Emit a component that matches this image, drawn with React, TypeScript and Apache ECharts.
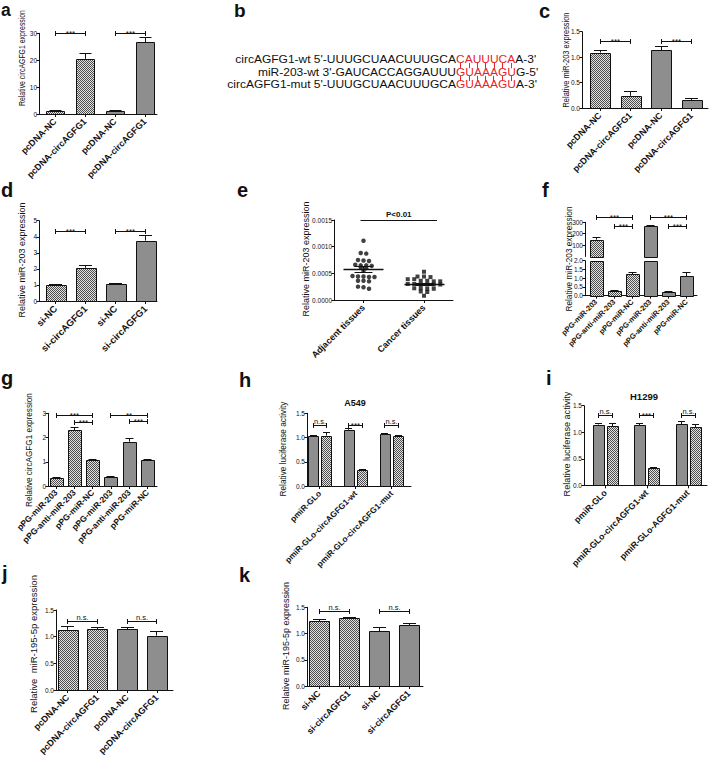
import React, { useEffect, useRef } from "react";
import * as echarts from "echarts";

const FONT = '"Liberation Sans", Arial, Helvetica, sans-serif';
const W = 709;
const H = 758;

// ---------------- categories ----------------
const pcdnaCats = ["pcDNA-NC", "pcDNA-circAGFG1", "pcDNA-NC", "pcDNA-circAGFG1"];
const siCats = ["si-NC", "si-circAGFG1", "si-NC", "si-circAGFG1"];
const ppgCats = ["pPG-miR-203", "pPG-anti-miR-203", "pPG-miR-NC", "pPG-miR-203", "pPG-anti-miR-203", "pPG-miR-NC"];
const tissueCats = ["Adjacent tissues", "Cancer tissues"];
const lucCatsA549 = ["pmiR-GLo", "pmiR-GLo-circAGFG1-wt", "pmiR-GLo-circAGFG1-mut"];
const lucCatsH1299 = ["pmiR-GLo", "pmiR-GLo-circAGFG1-wt", "pmiR-GLo-AGFG1-mut"];

// ---------------- panel a ----------------
const aValues = [1.0, 20.5, 1.0, 26.6];
const aErrors = [0.15, 2.0, 0.15, 1.9];
const aYTicks = [0, 10, 20, 30];
const aSigPairs = [[0, 1, 30], [2, 3, 30]];
const aSigLabels = ["***", "***"];

// ---------------- panel b ----------------
const seqRows = [
  { name: "circAGFG1-wt 5'-", pre: "UUUGCUAACUUUGCA", site: "CAUUUCA", post: "A-3'" },
  { name: "miR-203-wt 3'-", pre: "GAUCACCAGGAUUU", site: "GUAAAGU", post: "G-5'" },
  { name: "circAGFG1-mut 5'-", pre: "UUUGCUAACUUUGCA", site: "GUAAAGU", post: "A-3'" },
];

// ---------------- panel c ----------------
const cValues = [1.09, 0.24, 1.14, 0.15];
const cErrors = [0.04, 0.08, 0.07, 0.04];
const cYTicks = [0, 0.5, 1.0, 1.5];
const cSigPairs = [[0, 1, 1.3], [2, 3, 1.3]];
const cSigLabels = ["***", "***"];

// ---------------- panel d ----------------
const dValues = [1.0, 2.07, 1.05, 3.76];
const dErrors = [0.03, 0.13, 0.05, 0.29];
const dYTicks = [0, 1, 2, 3, 4, 5];
const dSigPairs = [[0, 1, 4.3], [2, 3, 4.3]];
const dSigLabels = ["***", "***"];

// ---------------- panel e ----------------
const eAdjacent = [0.00111, 0.00088, 0.00087, 0.00075, 0.00074, 0.00073, 0.00066, 0.00065, 0.00065, 0.00064,
  0.00061, 0.0006, 0.00055, 0.00045, 0.00044, 0.00044, 0.00043, 0.00043, 0.00036, 0.00036, 0.00035,
  0.00025, 0.00024, 0.00021];
const eCancer = [0.00053, 0.00044, 0.00044, 0.00043, 0.00039, 0.00039, 0.00036, 0.00036, 0.00035, 0.00035,
  0.0003, 0.0003, 0.00029, 0.00029, 0.00029, 0.00029, 0.00022, 0.00022, 0.00021, 0.00021, 0.00016, 0.00015,
  0.00008];
const eMeans = [0.000575, 0.000294];
const eSems = [0.00005, 0.00002];
const eYTicks = [0, 0.0005, 0.001, 0.0015];
const eSigLevel = 0.0015;
const eSigLabel = "P<0.01";

// ---------------- panel f ----------------
const fValues = [148, 0.25, 1.22, 265, 0.22, 1.12];
const fErrors = [22, 0.03, 0.13, 4, 0.04, 0.18];
const fUpperTicks = [0, 100, 200, 300];
const fLowerTicks = [0, 0.5, 1.0, 1.5, 2.0];
const fSigPairs = [[0, 2, 340], [1, 2, 267], [3, 5, 340], [4, 5, 267]];
const fSigLabels = ["***", "***", "***", "***"];

// ---------------- panel g ----------------
const gValues = [0.32, 2.31, 1.07, 0.36, 1.83, 1.07];
const gErrors = [0.02, 0.12, 0.03, 0.04, 0.11, 0.03];
const gYTicks = [0, 1, 2, 3];
const gSigPairs = [[0, 2, 2.89], [1, 2, 2.62], [3, 5, 2.9], [4, 5, 2.65]];
const gSigLabels = ["***", "***", "**", "***"];

// ---------------- panel h ----------------
const hGrey = [1.03, 1.16, 1.07];
const hGreyErr = [0.01, 0.02, 0.02];
const hChecker = [1.04, 0.33, 1.03];
const hCheckerErr = [0.07, 0.01, 0.01];
const hYTicks = [0, 0.5, 1.0, 1.5];
const hSigPairs = [[0, 1, 1.25], [2, 3, 1.25], [4, 5, 1.25]];
const hSigLabels = ["n.s.", "***", "n.s."];
const hTitle = "A549";

// ---------------- panel i ----------------
const iGrey = [1.145, 1.13, 1.15];
const iGreyErr = [0.02, 0.04, 0.05];
const iChecker = [1.11, 0.32, 1.1];
const iCheckerErr = [0.05, 0.02, 0.04];
const iYTicks = [0, 0.5, 1.0, 1.5];
const iSigPairs = [[0, 1, 1.31], [2, 3, 1.31], [4, 5, 1.31]];
const iSigLabels = ["n.s.", "***", "n.s."];
const iTitle = "H1299";

// ---------------- panel j ----------------
const jValues = [1.13, 1.145, 1.135, 1.02];
const jErrors = [0.06, 0.02, 0.04, 0.08];
const jYTicks = [0, 0.5, 1.0, 1.5];
const jSigPairs = [[0, 1, 1.28], [2, 3, 1.28]];
const jSigLabels = ["n.s.", "n.s."];

// ---------------- panel k ----------------
const kValues = [1.24, 1.29, 1.04, 1.16];
const kErrors = [0.02, 0.02, 0.08, 0.04];
const kYTicks = [0, 0.5, 1.0, 1.5];
const kSigPairs = [[0, 1, 1.42], [2, 3, 1.42]];
const kSigLabels = ["n.s.", "n.s."];

// ---------------- texts ----------------
const yTitles = {
  a: "Relative circAGFG1 expression",
  c: "Relative miR-203 expression",
  d: "Relative miR-203 expression",
  e: "Relative miR-203 expression",
  f: "Relative miR-203 expression",
  g: "Relative circAGFG1 expression",
  h: "Relative luciferase activity",
  i: "Relative luciferase activity",
  j: "Relative  miR-195-5p expression",
  k: "Relative miR-195-5p expression",
};

// ---------------- layout (pixels) ----------------
// title: [centre x, centre y, drawn length]
const LAYOUT: any = {
  a: { axisX: 39, axisEnd: 157, top: 33.3, bottom: 114, first: 55, spacing: 30, barW: 18, xFont: 9, xMargin: 6, title: [22, 58, 96] },
  c: { axisX: 582, axisEnd: 708, top: 31.7, bottom: 108, first: 600, spacing: 30.5, barW: 20, xFont: 9, xMargin: 6, title: [566, 60, 95] },
  d: { axisX: 39, axisEnd: 157, top: 220.7, bottom: 301, first: 55.5, spacing: 30, barW: 20, xFont: 9.5, xMargin: 6, title: [22, 260, 115] },
  e: { axisX: 334, axisEnd: 453, top: 220, bottom: 300, first: 363.5, spacing: 60.5, xFont: 9, xMargin: 6, title: [306, 259, 115] },
  f: { axisX: 585, axisEnd: 697, upperTop: 222.3, upperBottom: 256.5, top: 260.7, bottom: 295.7, first: 596, spacing: 18.1, barW: 13, xFont: 7.5, xMargin: 5, title: [569, 259, 105] },
  g: { axisX: 48, axisEnd: 157, top: 413.3, bottom: 486, first: 56, spacing: 18.3, barW: 13, xFont: 8.5, xMargin: 5, title: [29, 450, 114] },
  h: { axisX: 307, axisEnd: 411, top: 413.3, bottom: 486, first: 319.7, spacing: 35.9, barW: 10, inner: 13.3, xFont: 8.3, xMargin: 6, title: [283, 449, 95] },
  i: { axisX: 584, axisEnd: 707, top: 405.7, bottom: 485.3, first: 605.5, spacing: 41.25, barW: 11, inner: 14, xFont: 8.8, xMargin: 6, title: [567, 444, 105] },
  j: { axisX: 56, axisEnd: 173, top: 610, bottom: 690, first: 67.7, spacing: 29.7, barW: 20, xFont: 9, xMargin: 6, title: [34, 644, 138] },
  k: { axisX: 307, axisEnd: 423, top: 607.3, bottom: 686, first: 319, spacing: 30, barW: 20, xFont: 9, xMargin: 6, title: [286, 646, 128] },
};
const TITLE_FS = 9;
// [letter, left x, baseline y, font size]
const LETTERS: [string, number, number, number][] = [
  ["a", 1, 16, 17.5], ["b", 234, 17.5, 19], ["c", 539, 18, 20], ["d", 1, 197, 20], ["e", 237, 197, 20], ["f", 542, 197, 20],
  ["g", 1, 385, 20], ["h", 239, 387, 20], ["i", 546, 385, 20], ["j", 2, 580, 20], ["k", 239, 582, 20],
];
const INK = "#111";
const GREY = "#8e8e8e";
const RED = "#e8242b";

function crisp(v: number) {
  return Math.round(v - 0.5) + 0.5;
}

function makeChecker() {
  const c = document.createElement("canvas");
  c.width = 2;
  c.height = 2;
  const x = c.getContext("2d") as CanvasRenderingContext2D;
  x.fillStyle = "#e2e2e2";
  x.fillRect(0, 0, 2, 2);
  x.fillStyle = "#4e4e4e";
  x.fillRect(0, 0, 1, 1);
  x.fillRect(1, 1, 1, 1);
  return { image: c.toDataURL(), repeat: "repeat", imageWidth: 2, imageHeight: 2 };
}

function swarmOffsets(values: number[], tol: number, step: number) {
  const idx = values.map((_, i) => i).sort((p, q) => values[q] - values[p]);
  const off = new Array(values.length).fill(0);
  let row: number[] = [];
  const flush = () => {
    row.forEach((id, j) => (off[id] = (j - (row.length - 1) / 2) * step));
    row = [];
  };
  for (const id of idx) {
    if (row.length && values[row[0]] - values[id] > tol) flush();
    row.push(id);
  }
  flush();
  return off;
}

function buildOption() {
  const checker = makeChecker();
  const grids: any[] = [];
  const xAxes: any[] = [];
  const yAxes: any[] = [];
  const series: any[] = [];
  const elements: any[] = [];
  const lineStyle = { color: INK, width: 1 };
  const mctx = document.createElement("canvas").getContext("2d") as CanvasRenderingContext2D;

  const addGrid = (g: any, top: number, bottom: number) => {
    grids.push({ left: g.axisX, top, width: g.axisEnd - g.axisX, height: bottom - top, containLabel: false });
    return grids.length - 1;
  };
  const addX = (g: any, cats: string[], show: boolean) => {
    const n = cats.length;
    const last = g.first + (n - 1) * g.spacing;
    const ids = cats.map((_, i) => i);
    xAxes.push({
      gridIndex: grids.length - 1,
      type: "value",
      min: -(g.first - g.axisX) / g.spacing,
      max: n - 1 + (g.axisEnd - last) / g.spacing,
      axisLine: { show, onZero: false, lineStyle },
      axisTick: { show, customValues: ids, length: 3, lineStyle },
      axisLabel: {
        show, customValues: ids, rotate: 45, margin: g.xMargin, fontSize: g.xFont, fontWeight: "bold",
        color: INK, fontFamily: FONT, formatter: (v: number) => cats[Math.round(v)] ?? "",
      },
      splitLine: { show: false },
    });
  };
  const addY = (ticks: number[], decimals: number, hideMin = false) => {
    yAxes.push({
      gridIndex: grids.length - 1,
      type: "value",
      min: ticks[0],
      max: ticks[ticks.length - 1],
      interval: ticks[1] - ticks[0],
      axisLine: { show: true, onZero: false, lineStyle },
      axisTick: { show: true, length: 2.5, lineStyle },
      axisLabel: {
        fontSize: 6.5, margin: 2, color: INK, fontFamily: FONT, showMinLabel: !hideMin,
        formatter: (v: number) => v.toFixed(decimals),
      },
      splitLine: { show: false },
    });
  };

  const simpleX = () => (api: any, i: number) => api.coord([i, 0])[0];
  const groupedX = (inner: number) => (api: any, i: number) =>
    api.coord([Math.floor(i / 2), 0])[0] + ((i % 2) - 0.5) * inner;

  const addBars = (gi: number, bars: number[], errs: number[], fillOf: (i: number) => any, xPix: any, barW: number, yMin: number, yMax: number) => {
    series.push({
      type: "custom", xAxisIndex: gi, yAxisIndex: gi, z: 2,
      data: bars.map((v, i) => [i, v]),
      renderItem: (params: any, api: any) => {
        const i = api.value(0);
        const v = api.value(1);
        const cs = params.coordSys;
        const cx = xPix(api, i);
        let yTop = api.coord([0, Math.min(v, yMax)])[1];
        let yBot = api.coord([0, yMin])[1];
        yTop = Math.max(yTop, cs.y);
        yBot = Math.min(yBot, cs.y + cs.height);
        if (yBot - yTop < 0.8) return null;
        const x0 = Math.round(cx - barW / 2) + 0.5;
        const t = Math.round(yTop) + 0.5;
        return {
          type: "rect",
          shape: { x: x0, y: t, width: Math.round(barW), height: Math.round(yBot) + 0.5 - t },
          style: { fill: fillOf(i), stroke: INK, lineWidth: 1 },
        };
      },
    });
    const capW = Math.round(barW * 0.65);
    series.push({
      type: "custom", xAxisIndex: gi, yAxisIndex: gi, z: 3,
      data: bars.map((v, i) => [i, v, errs[i]]),
      renderItem: (params: any, api: any) => {
        const i = api.value(0);
        const v = api.value(1);
        const e = api.value(2);
        const cs = params.coordSys;
        if (v > yMax) return null;
        const yTop = api.coord([0, v])[1];
        if (cs.y + cs.height - yTop < 1) return null;
        const yHi = crisp(api.coord([0, v + e])[1]);
        const cx = crisp(xPix(api, i));
        return {
          type: "group",
          children: [
            { type: "line", shape: { x1: cx, y1: yTop, x2: cx, y2: yHi }, style: { stroke: INK, lineWidth: 1 } },
            { type: "line", shape: { x1: cx - capW / 2, y1: yHi, x2: cx + capW / 2, y2: yHi }, style: { stroke: INK, lineWidth: 1 } },
          ],
        };
      },
    });
  };

  const addSig = (gi: number, pairs: number[][], labels: string[], xPix: any) => {
    series.push({
      type: "custom", xAxisIndex: gi, yAxisIndex: gi, z: 4,
      data: pairs,
      renderItem: (params: any, api: any) => {
        const l = api.value(0);
        const r = api.value(1);
        const y = api.value(2);
        const lab = labels[params.dataIndex];
        const xl = crisp(xPix(api, l));
        const xr = crisp(xPix(api, r));
        const yy = crisp(api.coord([0, y])[1]);
        const star = lab.charAt(0) === "*";
        const fs = star ? 8 : 7.5;
        return {
          type: "group",
          children: [
            { type: "line", shape: { x1: xl, y1: yy, x2: xr, y2: yy }, style: { stroke: INK, lineWidth: 1 } },
            { type: "line", shape: { x1: xl, y1: yy - 2.5, x2: xl, y2: yy + 2.5 }, style: { stroke: INK, lineWidth: 1 } },
            { type: "line", shape: { x1: xr, y1: yy - 2.5, x2: xr, y2: yy + 2.5 }, style: { stroke: INK, lineWidth: 1 } },
            {
              type: "text", x: (xl + xr) / 2, y: star ? yy - 0.3 : yy - 4.5,
              style: { text: lab, font: `${fs}px ${FONT}`, fill: INK, align: "center", verticalAlign: "middle", textAlign: "center", textVerticalAlign: "middle" },
            },
          ],
        };
      },
    });
  };

  const simplePanel = (key: string, cats: string[], values: number[], errs: number[], ticks: number[], decimals: number, pairs: number[][], labels: string[], nChecker: number) => {
    const g = LAYOUT[key];
    const gi = addGrid(g, g.top, g.bottom);
    addX(g, cats, true);
    addY(ticks, decimals);
    const xp = simpleX();
    addBars(gi, values, errs, (i) => (i < nChecker ? checker : GREY), xp, g.barW, ticks[0], ticks[ticks.length - 1]);
    addSig(gi, pairs, labels, xp);
  };

  const groupedPanel = (key: string, cats: string[], grey: number[], greyErr: number[], chk: number[], chkErr: number[], ticks: number[], pairs: number[][], labels: string[]) => {
    const g = LAYOUT[key];
    const gi = addGrid(g, g.top, g.bottom);
    addX(g, cats, true);
    addY(ticks, 1);
    const bars: number[] = [];
    const errs: number[] = [];
    grey.forEach((v, k) => {
      bars.push(v, chk[k]);
      errs.push(greyErr[k], chkErr[k]);
    });
    const xp = groupedX(g.inner);
    addBars(gi, bars, errs, (i) => (i % 2 === 0 ? GREY : checker), xp, g.barW, ticks[0], ticks[ticks.length - 1]);
    addSig(gi, pairs, labels, xp);
  };

  // a, c, d
  simplePanel("a", pcdnaCats, aValues, aErrors, aYTicks, 0, aSigPairs, aSigLabels, 2);
  simplePanel("c", pcdnaCats, cValues, cErrors, cYTicks, 1, cSigPairs, cSigLabels, 2);
  simplePanel("d", siCats, dValues, dErrors, dYTicks, 0, dSigPairs, dSigLabels, 2);

  // e
  {
    const g = LAYOUT.e;
    const gi = addGrid(g, g.top, g.bottom);
    addX(g, tissueCats, true);
    addY(eYTicks, 4);
    const offA = swarmOffsets(eAdjacent, 0.00004, 5.5);
    const offC = swarmOffsets(eCancer, 0.00004, 6.5);
    series.push({
      type: "scatter", xAxisIndex: gi, yAxisIndex: gi, symbol: "circle", symbolSize: 4.5, z: 3,
      itemStyle: { color: INK }, data: eAdjacent.map((v, k) => [offA[k] / g.spacing, v]),
    });
    series.push({
      type: "scatter", xAxisIndex: gi, yAxisIndex: gi, symbol: "rect", symbolSize: 4, z: 3,
      itemStyle: { color: INK }, data: eCancer.map((v, k) => [1 + offC[k] / g.spacing, v]),
    });
    series.push({
      type: "custom", xAxisIndex: gi, yAxisIndex: gi, z: 4,
      data: eMeans.map((m, k) => [k, m, eSems[k]]),
      renderItem: (params: any, api: any) => {
        const c = api.value(0);
        const m = api.value(1);
        const s = api.value(2);
        const cx = crisp(api.coord([c, m])[0]);
        const ym = crisp(api.coord([c, m])[1]);
        const yh = crisp(api.coord([c, m + s])[1]);
        const yl = crisp(api.coord([c, m - s])[1]);
        const st = { stroke: INK, lineWidth: 1 };
        return {
          type: "group",
          children: [
            { type: "line", shape: { x1: cx - 20, y1: ym, x2: cx + 20, y2: ym }, style: { stroke: INK, lineWidth: 1.3 } },
            { type: "line", shape: { x1: cx, y1: yh, x2: cx, y2: yl }, style: st },
            { type: "line", shape: { x1: cx - 9, y1: yh, x2: cx + 9, y2: yh }, style: st },
            { type: "line", shape: { x1: cx - 9, y1: yl, x2: cx + 9, y2: yl }, style: st },
          ],
        };
      },
    });
    series.push({
      type: "custom", xAxisIndex: gi, yAxisIndex: gi, z: 4,
      data: [[0, 1, eSigLevel]],
      renderItem: (params: any, api: any) => {
        const x1 = api.coord([api.value(0), 0])[0] - 3;
        const x2 = api.coord([api.value(1), 0])[0] + 13;
        const yy = crisp(api.coord([0, api.value(2)])[1]);
        return {
          type: "group",
          children: [
            { type: "line", shape: { x1, y1: yy, x2, y2: yy }, style: { stroke: INK, lineWidth: 1.2 } },
            {
              type: "text", x: (x1 + x2) / 2, y: yy - 6.5,
              style: { text: eSigLabel, font: `bold 8px ${FONT}`, fill: INK, align: "center", verticalAlign: "middle", textAlign: "center", textVerticalAlign: "middle" },
            },
          ],
        };
      },
    });
  }

  // f (broken axis: two stacked grids)
  {
    const g = LAYOUT.f;
    const xp = simpleX();
    const fill = (i: number) => (i < 3 ? checker : GREY);
    const gu = addGrid(g, g.upperTop, g.upperBottom);
    addX(g, ppgCats, false);
    addY(fUpperTicks, 0, true);
    addBars(gu, fValues, fErrors, fill, xp, g.barW, fUpperTicks[0], fUpperTicks[fUpperTicks.length - 1]);
    addSig(gu, fSigPairs, fSigLabels, xp);
    const gl = addGrid(g, g.top, g.bottom);
    addX(g, ppgCats, true);
    addY(fLowerTicks, 1);
    addBars(gl, fValues, fErrors, fill, xp, g.barW, fLowerTicks[0], fLowerTicks[fLowerTicks.length - 1]);
  }

  simplePanel("g", ppgCats, gValues, gErrors, gYTicks, 0, gSigPairs, gSigLabels, 3);
  groupedPanel("h", lucCatsA549, hGrey, hGreyErr, hChecker, hCheckerErr, hYTicks, hSigPairs, hSigLabels);
  groupedPanel("i", lucCatsH1299, iGrey, iGreyErr, iChecker, iCheckerErr, iYTicks, iSigPairs, iSigLabels);
  simplePanel("j", pcdnaCats, jValues, jErrors, jYTicks, 1, jSigPairs, jSigLabels, 2);
  simplePanel("k", siCats, kValues, kErrors, kYTicks, 1, kSigPairs, kSigLabels, 2);

  // ---------- graphic texts ----------
  const txt = (x: number, y: number, text: string, font: string, align = "left", extra: any = {}, styleExtra: any = {}) => ({
    type: "text", x, y, ...extra,
    style: { text, font, fill: INK, align, verticalAlign: "middle", textAlign: align, textVerticalAlign: "middle", ...styleExtra },
  });
  LETTERS.forEach(([l, x, base, fs]) => elements.push(txt(x, base - 0.35 * fs, l, `bold ${fs}px ${FONT}`)));
  const titleFont = `${TITLE_FS}px ${FONT}`;
  mctx.font = titleFont;
  Object.keys(yTitles).forEach((k) => {
    const [x, y, len] = LAYOUT[k].title;
    const text = (yTitles as any)[k];
    const natural = mctx.measureText(text).width || len;
    elements.push(txt(x, y, text, titleFont, "center", { rotation: Math.PI / 2, scaleX: len / natural }));
  });
  elements.push(txt(355, 403, hTitle, `bold 9px ${FONT}`, "center"));
  elements.push(txt(644, 396, iTitle, `bold 9.5px ${FONT}`, "center"));

  // panel b: sequence alignment (drawn at 11.4px, widened to the 12px advance of the original)
  const siteX = 456;
  const bFs = 11.4;
  const bStretch = 12 / 11.4;
  const bBase = [62.5, 75.3, 88.1];
  const bFont = `${bFs}px ${FONT}`;
  mctx.font = bFont;
  const centers = seqRows.map((r) =>
    r.site.split("").map((ch, j) => (mctx.measureText(r.site.slice(0, j)).width + mctx.measureText(ch).width / 2) * bStretch)
  );
  seqRows.forEach((r, k) => {
    const y = bBase[k] - 0.35 * bFs;
    elements.push(txt(siteX, y, r.name + r.pre, bFont, "right", { scaleX: bStretch }));
    elements.push({
      type: "text", x: siteX, y, scaleX: bStretch,
      style: {
        text: `{r|${r.site}}{k|${r.post}}`, font: bFont, align: "left", verticalAlign: "middle",
        textAlign: "left", textVerticalAlign: "middle",
        rich: { r: { fill: RED, font: bFont }, k: { fill: INK, font: bFont } },
      },
    });
  });
  for (let k = 0; k < 2; k++) {
    centers[k].forEach((c, j) => {
      const x = crisp(siteX + (c + centers[k + 1][j]) / 2);
      elements.push({
        type: "line",
        shape: { x1: x, y1: bBase[k] + 0.5, x2: x, y2: bBase[k + 1] - 7 },
        style: { stroke: RED, lineWidth: 1 },
      });
    });
  }

  return {
    animation: false,
    backgroundColor: "#fff",
    textStyle: { fontFamily: FONT },
    grid: grids,
    xAxis: xAxes,
    yAxis: yAxes,
    series,
    graphic: { elements },
  };
}

export default function App() {
  const ref = useRef<HTMLDivElement>(null);
  useEffect(() => {
    if (!ref.current) return;
    document.body.style.margin = "0";
    const chart = echarts.init(ref.current, null, { renderer: "svg", width: W, height: H });
    chart.setOption(buildOption() as any);
    return () => chart.dispose();
  }, []);
  return <div ref={ref} style={{ width: W, height: H, position: "absolute", left: 0, top: 0, background: "#fff" }} />;
}
